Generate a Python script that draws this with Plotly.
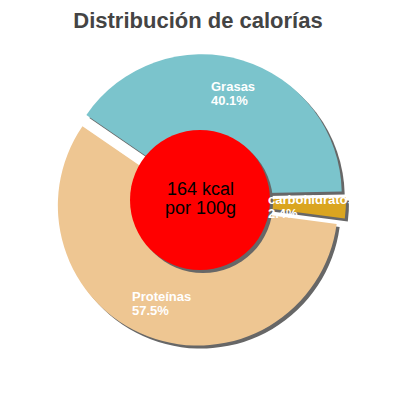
import math
import plotly.graph_objects as go

# Datos
labels = ["Grasas", "carbohidratos", "Proteínas"]
values = [40.1, 2.4, 57.5]
energy_kcal = 164
per_text = "por 100g"
title_text = "Distribución de calorías"

# Estilo
colors = ["#7bc4cc", "#daa520", "#eec692"]
SHADOW = "#676767"
FONT = "Liberation Sans, Arial, sans-serif"

PAGE = 8               # margen del <body> en la página
W = H = 400 - PAGE     # tamaño de la figura
CX, CY = 200, 200      # centro de la tarta (px en pantalla)
R = 140                # radio (px)
PULL_PX = 6            # separación de las porciones (px)
START = 145.5          # ángulo donde empieza la primera porción (grados)
SHADOW_OFF = 3         # desplazamiento de la sombra (px)
HOLE_R = 70            # radio del círculo central (px)
LABEL_R = 111          # distancia de las etiquetas al centro (px)
LABEL_SIZE = 13

pull = PULL_PX / R
half = R * (1 + pull)

# anchos aproximados de Arial Bold (em) para alinear las etiquetas a la izquierda
CHAR_W = {"G": .778, "P": .667, "a": .556, "b": .611, "c": .556, "d": .611, "e": .556,
          "h": .611, "i": .278, "í": .278, "n": .611, "o": .611, "r": .389, "s": .556,
          "t": .333, "%": .889, ".": .278}


def text_w(s, size):
    return sum(CHAR_W.get(ch, .556) for ch in s) * size


def px_to_paper(x, y):
    # coordenadas de pantalla -> papel
    return (x - PAGE) / W, 1 - (y - PAGE) / H


def make_pie(cols, cx, cy):
    x0, y1 = px_to_paper(cx - half, cy - half)
    x1, y0 = px_to_paper(cx + half, cy + half)
    return go.Pie(
        labels=labels,
        values=values,
        sort=False,
        direction="clockwise",
        rotation=90 - START,
        pull=[pull] * len(values),
        marker=dict(colors=cols, line=dict(width=0)),
        textinfo="none",
        hoverinfo="label+percent",
        domain=dict(x=[x0, x1], y=[y0, y1]),
        showlegend=False,
    )


fig = go.Figure()
# sombra
fig.add_trace(make_pie([SHADOW] * len(values), CX + SHADOW_OFF, CY + SHADOW_OFF))
fig.add_trace(make_pie(colors, CX, CY))

# círculo central (con sombra)
for off, col in [(SHADOW_OFF, SHADOW), (0, "#ff0000")]:
    x0, y1 = px_to_paper(CX + off - HOLE_R, CY + off - HOLE_R)
    x1, y0 = px_to_paper(CX + off + HOLE_R, CY + off + HOLE_R)
    fig.add_shape(type="circle", xref="paper", yref="paper",
                  x0=x0, x1=x1, y0=y0, y1=y1,
                  fillcolor=col, line=dict(width=0), layer="above")

# etiquetas de las porciones
total = sum(values)
cum = 0
for name, v in zip(labels, values):
    mid = math.radians(START - (cum + v / 2) / total * 360)
    cum += v
    lx = CX + math.cos(mid) * LABEL_R
    ly = CY - math.sin(mid) * LABEL_R
    pct = f"{v / total * 100:.1f}%"
    w = max(text_w(name, LABEL_SIZE), text_w(pct, LABEL_SIZE))
    ax, ay = px_to_paper(lx - w / 2, ly)
    lab_font = dict(family=FONT, size=LABEL_SIZE, color="white", weight="bold")
    fig.add_annotation(x=ax, y=ay, xref="paper", yref="paper", text=name,
                       xanchor="left", yanchor="bottom", yshift=-1.5, borderpad=0,
                       showarrow=False, font=lab_font)
    fig.add_annotation(x=ax, y=ay, xref="paper", yref="paper", text=pct,
                       xanchor="left", yanchor="top", yshift=1.5, borderpad=0,
                       showarrow=False, font=lab_font)

# texto central
cx_p, cy_p = px_to_paper(CX, CY)
fig.add_annotation(x=cx_p, y=cy_p, xref="paper", yref="paper", text=f"{energy_kcal} kcal",
                   xanchor="center", yanchor="bottom", borderpad=0, showarrow=False,
                   font=dict(family=FONT, size=18, color="black"))
fig.add_annotation(x=cx_p, y=cy_p, xref="paper", yref="paper", text=per_text,
                   xanchor="center", yanchor="top", yshift=3, borderpad=0, showarrow=False,
                   font=dict(family=FONT, size=18, color="black"))

fig.update_layout(
    title=dict(text=f"<b>{title_text}</b>", x=(198 - PAGE) / W, xanchor="center",
               y=1 - (28 - PAGE) / H, yanchor="bottom", yref="container",
               font=dict(family=FONT, size=22, color="#444444")),
    width=W, height=H,
    margin=dict(l=0, r=0, t=0, b=0),
    paper_bgcolor="white",
    plot_bgcolor="white",
)

fig.write_html("out.html")
